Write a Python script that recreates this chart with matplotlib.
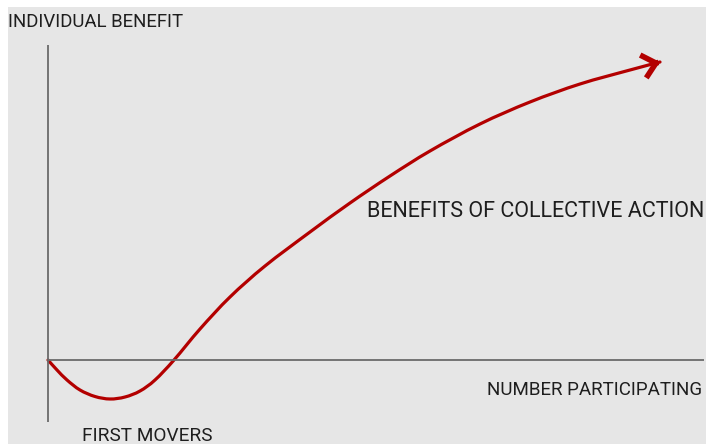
import matplotlib
matplotlib.use("Agg")
import matplotlib.pyplot as plt
import numpy as np
from matplotlib.path import Path
from matplotlib.patches import PathPatch

# Curve data: number participating (x) vs individual benefit (y)
participants = [0, 0.9, 1.9, 3.2, 4.7, 6.2, 7.7, 9.2, 10.7, 12.6, 15.2, 18.2,
                21.7, 26.2, 30.2, 34.2, 38.2, 43.2, 48.2, 53.2, 58.2, 61.2]
benefit = [0, -1.0, -2.0, -3.0, -3.65, -3.9, -3.7, -3.1, -2.0, 0, 3.1, 6.3,
           9.4, 12.8, 15.7, 18.4, 20.9, 23.6, 25.8, 27.6, 29.0, 29.8]

y_axis_label = "INDIVIDUAL BENEFIT"
x_axis_label = "NUMBER PARTICIPATING"
curve_label = "BENEFITS OF COLLECTIVE ACTION"
dip_label = "FIRST MOVERS"

plt.rcParams['font.family'] = ['Roboto', 'DejaVu Sans']

fig = plt.figure(figsize=(7.06, 4.44), dpi=100, facecolor='white')
ax = fig.add_axes([8/706, 0, 698/706, 437/444])
ax.set_facecolor('#e6e6e6')
ax.set_xlim(-4.0, 65.8)
ax.set_ylim(-8.4, 35.3)
for s in ax.spines.values():
    s.set_visible(False)
ax.set_xticks([])
ax.set_yticks([])

axis_color = '#6a6a6a'
ax.plot([0, 0], [-6.2, 31.5], color=axis_color, lw=1.3, solid_capstyle='butt')
ax.plot([0, 65.6], [0, 0], color=axis_color, lw=1.3, solid_capstyle='butt')

# smooth path through the read points (Catmull-Rom rendered as cubic Beziers)
pts = np.column_stack([participants, benefit])
verts = [tuple(pts[0])]
codes = [Path.MOVETO]
for i in range(len(pts) - 1):
    p0 = pts[i - 1] if i > 0 else pts[i]
    p1, p2 = pts[i], pts[i + 1]
    p3 = pts[i + 2] if i + 2 < len(pts) else pts[i + 1]
    c1 = p1 + (p2 - p0) / 6
    c2 = p2 - (p3 - p1) / 6
    verts += [tuple(c1), tuple(c2), tuple(p2)]
    codes += [Path.CURVE4] * 3

red = '#b30000'
ax.add_patch(PathPatch(Path(verts, codes), facecolor='none', edgecolor=red,
                       lw=2.3, capstyle='round', joinstyle='round'))
# arrow head only (drawn on a tiny segment at the tip)
dx = participants[-1] - participants[-2]
dy = benefit[-1] - benefit[-2]
ax.annotate('', xy=(participants[-1], benefit[-1]),
            xytext=(participants[-1] - 0.05 * dx, benefit[-1] - 0.05 * dy),
            arrowprops=dict(arrowstyle='->,head_length=0.95,head_width=0.85',
                            color=red, lw=4.0, mutation_scale=10,
                            shrinkA=0, shrinkB=0, joinstyle='miter',
                            capstyle='butt'))

txt = dict(color='#1e1e1e', va='baseline', ha='left')
ax.text(-4.0, 33.3, y_axis_label, fontsize=13.4, **txt)
ax.text(31.9, 14.3, curve_label, fontsize=15.5, **txt)
ax.text(43.9, -3.5, x_axis_label, fontsize=13.5, **txt)
ax.text(3.4, -8.1, dip_label, fontsize=13.7, **txt)

fig.savefig('out.png', dpi=100, facecolor='white')
